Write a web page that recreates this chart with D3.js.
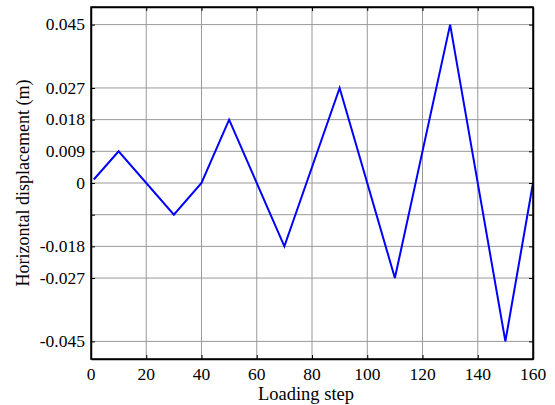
<!DOCTYPE html>
<html>
<head>
<meta charset="utf-8">
<script src="https://d3js.org/d3.v7.min.js"></script>
<style>
  body { margin: 0; background: #fff; }
  svg text { font-family: "Times New Roman", "Liberation Serif", serif; fill: #000; }
</style>
</head>
<body>
<svg id="chart" width="555" height="405"></svg>
<script>
// loading steps and displacement peaks
const steps = [1, 10, 30, 40, 50, 70, 90, 110, 130, 150, 160]
const disp = [0.001, 0.009, -0.009, 0.0, 0.018, -0.018, 0.027, -0.027, 0.045, -0.045, 0.0]

const xTicks = [0, 20, 40, 60, 80, 100, 120, 140, 160]
const yTicks = [-0.045, -0.027, -0.018, -0.009, 0, 0.009, 0.018, 0.027, 0.045]
const yLabels = ["-0.045", "-0.027", "-0.018", "", "0", "0.009", "0.018", "0.027", "0.045"]

const svg = d3.select("#chart")
const pLeft = 91, pRight = 533, pTop = 7, pBottom = 359

const x = d3.scaleLinear().domain([0, 160]).range([pLeft, pRight])
const y = d3.scaleLinear().domain([-0.05, 0.05]).range([pBottom, pTop])

// grid
svg.append("g")
  .selectAll("line")
  .data(xTicks.slice(1, -1))
  .join("line")
  .attr("x1", d => x(d)).attr("x2", d => x(d))
  .attr("y1", pTop).attr("y2", pBottom)
  .attr("stroke", "#999").attr("stroke-width", 1)

svg.append("g")
  .selectAll("line")
  .data(yTicks)
  .join("line")
  .attr("x1", pLeft).attr("x2", pRight)
  .attr("y1", d => y(d)).attr("y2", d => y(d))
  .attr("stroke", "#999").attr("stroke-width", 1)

// data line
const pts = steps.map((s, i) => [x(s), y(disp[i])])
svg.append("path")
  .attr("d", d3.line()(pts))
  .attr("fill", "none")
  .attr("stroke", "#0000ff")
  .attr("stroke-width", 2)

// axes with inward ticks (MATLAB style), labels drawn separately
const tickLen = -4
svg.append("g")
  .attr("transform", `translate(0,${pBottom})`)
  .call(d3.axisBottom(x).tickValues(xTicks).tickSize(tickLen).tickFormat("").tickSizeOuter(0))
svg.append("g")
  .attr("transform", `translate(0,${pTop})`)
  .call(d3.axisTop(x).tickValues(xTicks).tickSize(tickLen).tickFormat("").tickSizeOuter(0))
svg.append("g")
  .attr("transform", `translate(${pLeft},0)`)
  .call(d3.axisLeft(y).tickValues(yTicks).tickSize(tickLen).tickFormat("").tickSizeOuter(0))
svg.append("g")
  .attr("transform", `translate(${pRight},0)`)
  .call(d3.axisRight(y).tickValues(yTicks).tickSize(tickLen).tickFormat("").tickSizeOuter(0))

svg.selectAll(".domain").attr("stroke", "#000").attr("stroke-width", 1.5)
svg.selectAll(".tick line").attr("stroke", "#000")

// tick labels
svg.append("g")
  .selectAll("text")
  .data(xTicks)
  .join("text")
  .attr("x", d => x(d))
  .attr("y", 380)
  .attr("text-anchor", "middle")
  .style("font-size", "17.5px")
  .text(d => d)

svg.append("g")
  .selectAll("text")
  .data(yTicks)
  .join("text")
  .attr("x", 85)
  .attr("y", d => y(d))
  .attr("dy", "0.33em")
  .attr("text-anchor", "end")
  .style("font-size", "17.5px")
  .text((d, i) => yLabels[i])

// box edges
svg.append("rect")
  .attr("x", pLeft).attr("y", pTop)
  .attr("width", pRight - pLeft).attr("height", pBottom - pTop)
  .attr("fill", "none").attr("stroke", "#000").attr("stroke-width", 1.5)

// axis titles
svg.append("text")
  .attr("x", 306).attr("y", 400)
  .attr("text-anchor", "middle")
  .style("font-size", "18.5px")
  .text("Loading step")

svg.append("text")
  .attr("transform", `translate(29,${(pTop + pBottom) / 2}) rotate(-90)`)
  .attr("text-anchor", "middle")
  .style("font-size", "18px")
  .text("Horizontal displacement (m)")
</script>
</body>
</html>
